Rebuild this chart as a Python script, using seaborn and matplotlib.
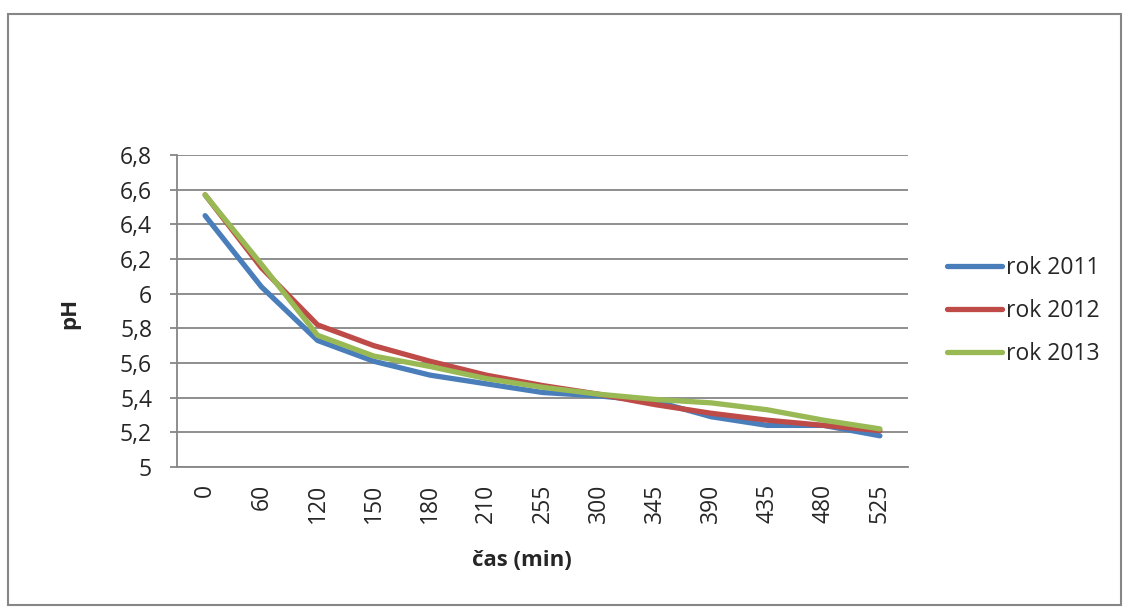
import matplotlib
matplotlib.use("Agg")
import matplotlib.pyplot as plt
import seaborn as sns
import pandas as pd
from matplotlib.patches import Rectangle
from matplotlib.lines import Line2D

categories = ["0", "60", "120", "150", "180", "210", "255", "300", "345", "390", "435", "480", "525"]
rok_2011 = [6.45, 6.04, 5.73, 5.61, 5.53, 5.48, 5.43, 5.41, 5.38, 5.29, 5.24, 5.24, 5.18]
rok_2012 = [6.57, 6.15, 5.82, 5.70, 5.61, 5.53, 5.47, 5.42, 5.36, 5.31, 5.27, 5.24, 5.21]
rok_2013 = [6.57, 6.17, 5.76, 5.64, 5.58, 5.51, 5.46, 5.42, 5.39, 5.37, 5.33, 5.27, 5.22]
series_names = ["rok 2011", "rok 2012", "rok 2013"]
colors = ["#4A7EBB", "#BE4B48", "#98B954"]

df = pd.DataFrame({
    "cas": categories * 3,
    "pH": rok_2011 + rok_2012 + rok_2013,
    "rok": [series_names[0]] * 13 + [series_names[1]] * 13 + [series_names[2]] * 13,
})

sns.set_style("white")
plt.rcParams["font.family"] = ["Open Sans", "DejaVu Sans"]

FS = 16.5
fig = plt.figure(figsize=(11.29, 6.12), dpi=100)
ax = fig.add_axes([177 / 1129, 1 - 467 / 612, (908 - 177) / 1129, (467 - 155) / 612])

sns.lineplot(data=df, x="cas", y="pH", hue="rok", palette=colors, linewidth=3.8,
             ax=ax, legend=False, sort=False)
for ln in ax.lines:
    ln.set_solid_capstyle("round")
    ln.set_solid_joinstyle("round")

grid_col = "#868686"
ax.set_xlim(-0.5, len(categories) - 0.5)
ax.set_ylim(5.0, 6.8)
yt = [5.0 + 0.2 * i for i in range(10)]
ax.set_yticks(yt)
ax.set_yticklabels([f"{v:.1f}".replace(".", ",").replace(",0", "") for v in yt], fontsize=FS)
ax.yaxis.grid(True, color=grid_col, linewidth=1.3)
ax.set_axisbelow(True)

ax.set_xticks(range(len(categories)))
ax.set_xticklabels(categories, rotation=90, fontsize=FS)
ax.set_xticks([i - 0.5 for i in range(len(categories) + 1)], minor=True)
ax.tick_params(axis="x", which="major", length=0, pad=12)
ax.tick_params(axis="x", which="minor", length=6, width=1.3, color=grid_col)
ax.tick_params(axis="y", which="major", length=5, width=1.3, color=grid_col, left=True, pad=13)

for s in ["top", "right"]:
    ax.spines[s].set_visible(False)
for s in ["left", "bottom"]:
    ax.spines[s].set_color(grid_col)
    ax.spines[s].set_linewidth(1.3)

ax.set_xlabel("čas (min)", fontsize=16, fontweight="bold", va="center")
ax.xaxis.set_label_coords((522 - 177) / 731, (467 - 560) / 312)
ax.set_ylabel("pH", fontsize=16, fontweight="bold", va="center")
ax.yaxis.set_label_coords((70 - 177) / 731, (467 - 313) / 312)

handles = [Line2D([0], [0], color=c, linewidth=3.8, solid_capstyle="round") for c in colors]
fig.legend(handles, series_names, loc="center left", bbox_to_anchor=(947 / 1129, 1 - 311 / 612),
           frameon=False, fontsize=FS, handlelength=2.4, handletextpad=0.17, labelspacing=0.85,
           borderpad=0, borderaxespad=0)

fig.patches.append(Rectangle((8 / 1129, 1 - 605 / 612), 1113 / 1129, 591 / 612,
                             transform=fig.transFigure, fill=False, edgecolor=grid_col,
                             linewidth=1.5))

fig.savefig("out.png", dpi=100)
